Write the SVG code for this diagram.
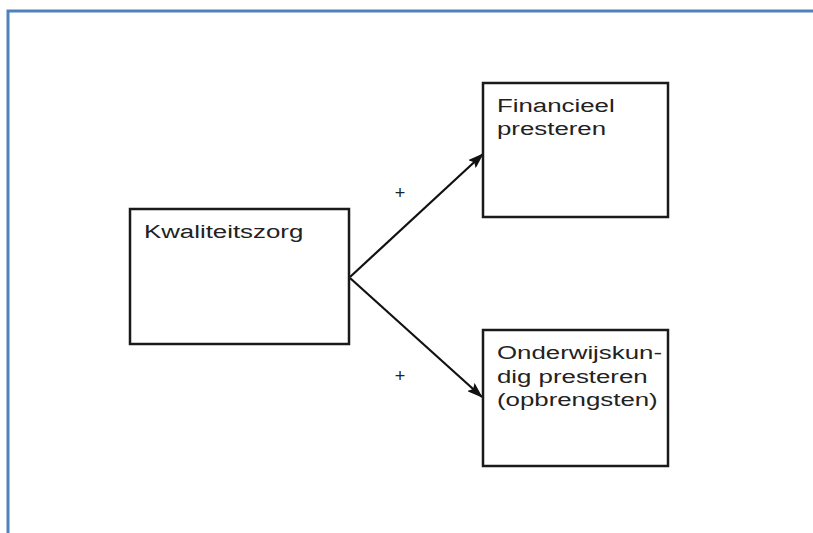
<svg xmlns="http://www.w3.org/2000/svg" width="813" height="533" viewBox="0 0 813 533">
  <style>
    .frame { stroke: #4f81bd; stroke-width: 3; fill: none; }
    .box { fill: #ffffff; stroke: #1a1a1a; stroke-width: 2.5; }
    .lbl { font-family: "Liberation Sans", Arial, sans-serif; font-size: 19px; fill: #222222; }
    .sign { font-family: "Liberation Sans", Arial, sans-serif; font-size: 18px; fill: #222222; text-anchor: middle; }
    .edge { stroke: #111111; stroke-width: 2.2; fill: none; marker-end: url(#head); }
  </style>
  <defs>
    <marker id="head" viewBox="0 0 16 11" refX="15" refY="5.5" markerWidth="16" markerHeight="11" markerUnits="userSpaceOnUse" orient="auto">
      <path d="M0,0 L16,5.5 L0,11 L3,5.5 Z" fill="#111111"/>
    </marker>
  </defs>
  <rect width="813" height="533" fill="#ffffff"/>
  <!-- page frame (top and left edges) -->
  <path class="frame" d="M8,533 L8,11 L813,11"/>

  <g id="connectors">
    <line class="edge" x1="350" y1="277" x2="483" y2="154"/>
    <line class="edge" x1="350" y1="278" x2="482" y2="397"/>
    <text class="sign" x="400" y="199">+</text>
    <text class="sign" x="400" y="382">+</text>
  </g>

  <g id="kwaliteitszorg">
    <rect class="box" x="130" y="209" width="219" height="135"/>
    <text class="lbl" transform="translate(144,238) scale(1.36,1)">Kwaliteitszorg</text>
  </g>

  <g id="financieel">
    <rect class="box" x="483" y="83" width="185" height="134"/>
    <text class="lbl" transform="translate(497,112) scale(1.36,1)">Financieel</text>
    <text class="lbl" transform="translate(497,135) scale(1.36,1)">presteren</text>
  </g>

  <g id="onderwijskundig">
    <rect class="box" x="483" y="330" width="185" height="136"/>
    <text class="lbl" transform="translate(497,359) scale(1.36,1)">Onderwijskun-</text>
    <text class="lbl" transform="translate(497,382.5) scale(1.36,1)">dig presteren</text>
    <text class="lbl" transform="translate(497,406) scale(1.36,1)">(opbrengsten)</text>
  </g>
</svg>
